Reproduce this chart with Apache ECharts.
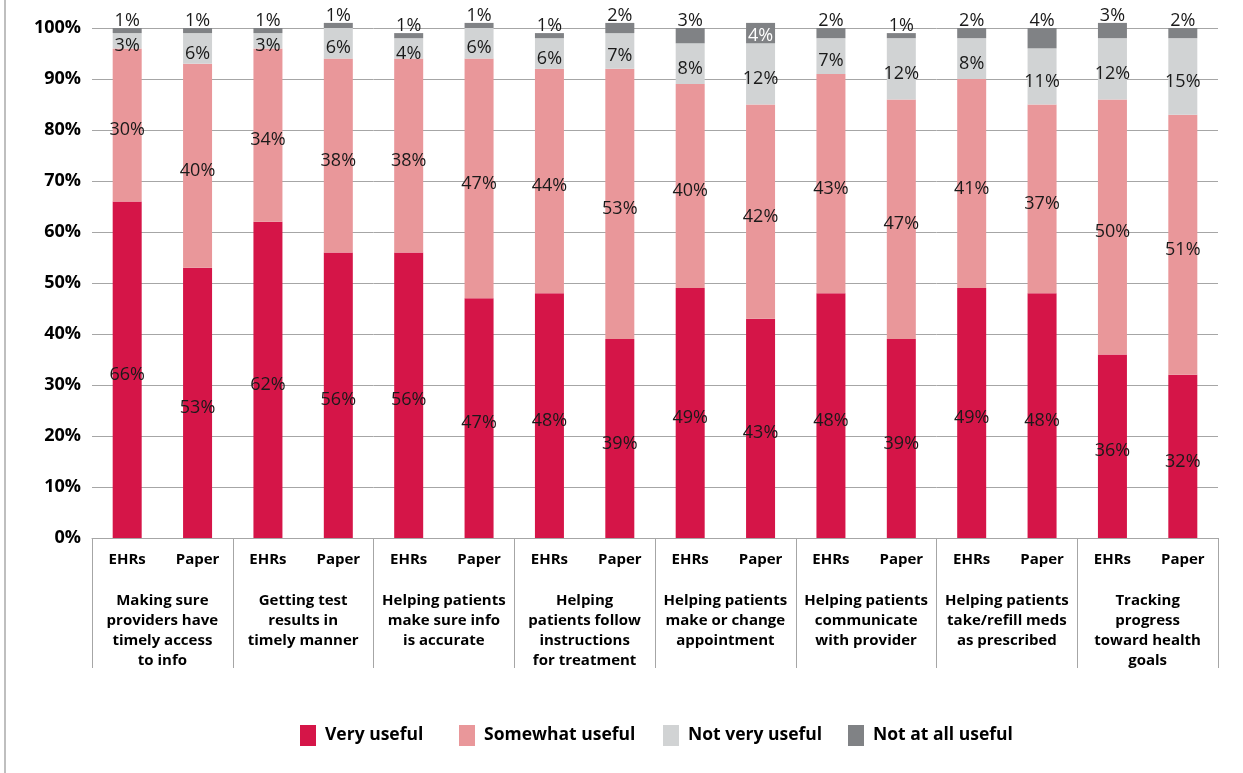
<!DOCTYPE html>
<html>
<head>
<meta charset="utf-8">
<script src="https://cdn.jsdelivr.net/npm/echarts@6/dist/echarts.min.js"></script>
<style>
  html, body { margin: 0; padding: 0; background: #fff; }
  #chart { width: 1243px; height: 773px; }
</style>
</head>
<body>
<div id="chart"></div>
<script>
// Usefulness of EHRs vs. paper records for each task (percent of respondents)
const groups = [
  'Making sure\nproviders have\ntimely access\nto info',
  'Getting test\nresults in\ntimely manner',
  'Helping patients\nmake sure info\nis accurate',
  'Helping\npatients follow\ninstructions\nfor treatment',
  'Helping patients\nmake or change\nappointment',
  'Helping patients\ncommunicate\nwith provider',
  'Helping patients\ntake/refill meds\nas prescribed',
  'Tracking\nprogress\ntoward health\ngoals'
];
const recordTypes = ['EHRs', 'Paper'];

// One value per bar, ordered EHRs, Paper for each task
const veryUseful      = [66, 53, 62, 56, 56, 47, 48, 39, 49, 43, 48, 39, 49, 48, 36, 32];
const somewhatUseful  = [30, 40, 34, 38, 38, 47, 44, 53, 40, 42, 43, 47, 41, 37, 50, 51];
const notVeryUseful   = [3, 6, 3, 6, 4, 6, 6, 7, 8, 12, 7, 12, 8, 11, 12, 15];
const notAtAllUseful  = [1, 1, 1, 1, 1, 1, 1, 2, 3, 4, 2, 1, 2, 4, 3, 2];

const seriesNames = ['Very useful', 'Somewhat useful', 'Not very useful', 'Not at all useful'];
const seriesColors = ['#d51548', '#e9979a', '#d1d3d4', '#808285'];

// Bar whose "not at all useful" label sits inside the segment
const insideTopLabelIndex = 9;

// Left edge of each legend entry
const legendLefts = [300, 459, 663, 848];

const barCategories = [];
groups.forEach(() => recordTypes.forEach(t => barCategories.push(t)));

const FONT = '"Open Sans", "Noto Sans", sans-serif';

const labelStyle = {
  show: true,
  position: 'inside',
  offset: [0, 5],
  formatter: '{c}%',
  color: '#1a1a1a',
  fontFamily: FONT,
  fontSize: 18
};

function stackSeries(name, values, color, extra) {
  return Object.assign({
    name: name,
    type: 'bar',
    stack: 'total',
    xAxisIndex: 0,
    barWidth: 29,
    clip: false,
    itemStyle: { color: color },
    label: Object.assign({}, labelStyle),
    data: values
  }, extra || {});
}

const topData = notAtAllUseful.map((v, i) => i === insideTopLabelIndex
  ? { value: v, label: { position: 'inside', offset: [0, 3], color: '#ffffff' } }
  : v);

const legends = seriesNames.map((name, i) => ({
  data: [name],
  left: legendLefts[i],
  top: 725,
  padding: 0,
  itemWidth: 16,
  itemHeight: 21,
  icon: 'rect',
  textStyle: { fontFamily: FONT, fontWeight: 'bold', fontSize: 17.5, color: '#000', padding: [0, 0, 0, 4] }
}));

const chart = echarts.init(document.getElementById('chart'), null, { renderer: 'canvas' });

chart.setOption({
  animation: false,
  backgroundColor: '#ffffff',
  grid: { left: 92, right: 25, top: 28, bottom: 235, containLabel: false },
  xAxis: [
    {
      type: 'category',
      data: barCategories,
      position: 'bottom',
      axisLine: { show: true, lineStyle: { color: '#a6a6a6', width: 1 } },
      axisTick: { show: false },
      axisLabel: {
        interval: 0, margin: 14, color: '#000',
        fontFamily: FONT, fontWeight: 'bold', fontSize: 15
      }
    },
    {
      type: 'category',
      data: groups,
      position: 'bottom',
      offset: 0,
      axisLine: { show: false },
      axisTick: { show: true, length: 130, lineStyle: { color: '#a6a6a6', width: 1 } },
      axisLabel: {
        interval: 0, margin: 53, color: '#000', lineHeight: 20,
        fontFamily: FONT, fontWeight: 'bold', fontSize: 15
      }
    }
  ],
  yAxis: {
    type: 'value',
    min: 0,
    max: 100,
    interval: 10,
    axisLine: { show: false },
    axisTick: { show: false },
    splitLine: { show: true, lineStyle: { color: '#a6a6a6', width: 1 } },
    axisLabel: {
      formatter: '{value}%', margin: 11, color: '#000',
      fontFamily: FONT, fontWeight: 'bold', fontSize: 18
    }
  },
  legend: legends,
  graphic: [
    {
      type: 'line',
      shape: { x1: 5, y1: 0, x2: 5, y2: 773 },
      style: { stroke: '#bfbfbf', lineWidth: 2 }
    }
  ],
  series: [
    stackSeries(seriesNames[0], veryUseful, seriesColors[0]),
    stackSeries(seriesNames[1], somewhatUseful, seriesColors[1]),
    stackSeries(seriesNames[2], notVeryUseful, seriesColors[2]),
    stackSeries(seriesNames[3], topData, seriesColors[3], {
      label: Object.assign({}, labelStyle, { position: 'top', distance: 1, offset: [0, 3] })
    })
  ]
});
</script>
</body>
</html>
